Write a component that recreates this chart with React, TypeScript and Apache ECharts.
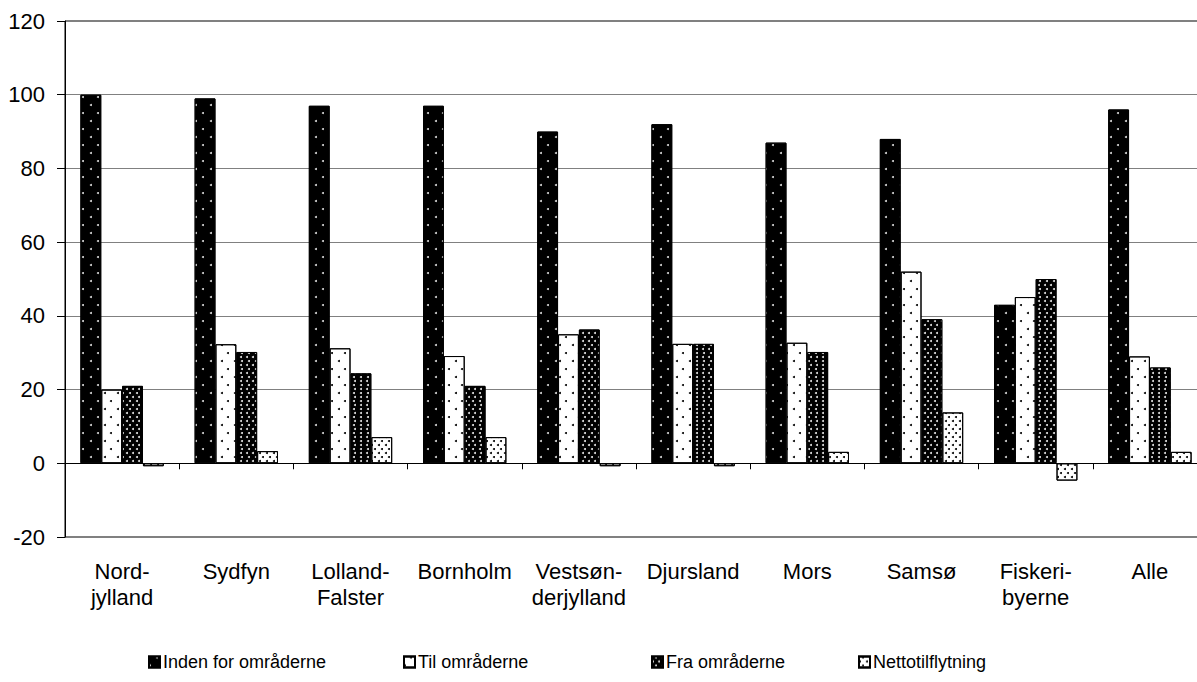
import React, { useEffect, useRef } from "react";
import * as echarts from "echarts";

const categories = [
  "Nord-\njylland",
  "Sydfyn",
  "Lolland-\nFalster",
  "Bornholm",
  "Vestsøn-\nderjylland",
  "Djursland",
  "Mors",
  "Samsø",
  "Fiskeri-\nbyerne",
  "Alle",
];
const seriesNames = ["Inden for områderne", "Til områderne", "Fra områderne", "Nettotilflytning"];
const inden = [100, 99, 97, 97, 90, 92, 87, 88, 43, 96];
const til = [20, 32.3, 31.2, 29.1, 35, 32.4, 32.7, 52, 45.1, 29];
const fra = [21, 30.2, 24.4, 21, 36.3, 32.4, 30.2, 39.1, 50, 26];
const netto = [-0.8, 3.3, 7.1, 7.1, -0.8, -0.8, 3.1, 13.8, -4.7, 3.1];
const yTicks = { min: -20, max: 120, interval: 20 };

const FONT = "Liberation Sans, Arial, sans-serif";

const decals = [
  {
    symbol: "circle",
    symbolSize: 1,
    color: "rgba(255,255,255,0.85)",
    dashArrayX: [[1.4, 12.6], [0, 7, 1.4, 5.6]],
    dashArrayY: [1.4, 5.6],
  },
  {
    symbol: "circle",
    symbolSize: 1,
    color: "#000",
    dashArrayX: [[1.4, 10.6], [0, 6, 1.4, 4.6]],
    dashArrayY: [1.4, 5.4],
  },
  {
    symbol: "circle",
    symbolSize: 1,
    color: "rgba(255,255,255,0.9)",
    dashArrayX: [[1.5, 3.9], [0, 2.7, 1.5, 1.2]],
    dashArrayY: [1.5, 1.2],
  },
  {
    symbol: "circle",
    symbolSize: 1,
    color: "#000",
    dashArrayX: [[1.2, 4.8], [0, 3, 1.2, 1.8]],
    dashArrayY: [1.2, 1.8],
  },
];
const fills = ["#000", "#fff", "#000", "#fff"];
const legendLeft = [143, 398, 646, 853];

export default function App() {
  const ref = useRef<HTMLDivElement>(null);
  useEffect(() => {
    if (!ref.current) return;
    const chart = echarts.init(ref.current, null, { renderer: "svg" });
    const values = [inden, til, fra, netto];
    chart.setOption({
      animation: false,
      backgroundColor: "#fff",
      textStyle: { fontFamily: FONT },
      grid: {
        left: 65,
        top: 21,
        right: 8,
        bottom: 145,
        show: true,
        borderColor: "#000",
        borderWidth: 1,
        backgroundColor: "transparent",
      },
      legend: seriesNames.map((n, i) => ({
        data: [n],
        left: legendLeft[i],
        top: 648,
        itemWidth: 11,
        itemHeight: 11,
        itemGap: 4,
        icon: "rect",
        selectedMode: false,
        textStyle: { fontSize: 18, color: "#000", fontFamily: FONT, padding: [0, 0, 0, -2] },
      })),
      xAxis: [
        {
          type: "category",
          data: categories,
          axisLine: { onZero: true, lineStyle: { color: "#000", width: 1 } },
          axisTick: { show: true, length: 6, lineStyle: { color: "#000" } },
          axisLabel: { show: false },
          splitLine: { show: false },
        },
        {
          type: "category",
          data: categories,
          position: "bottom",
          axisLine: { show: false, onZero: false },
          axisTick: { show: false },
          axisLabel: {
            interval: 0,
            fontSize: 22,
            lineHeight: 26,
            margin: 21,
            color: "#000",
            fontFamily: FONT,
          },
          splitLine: { show: false },
        },
      ],
      yAxis: {
        type: "value",
        min: yTicks.min,
        max: yTicks.max,
        interval: yTicks.interval,
        axisLine: { show: true, lineStyle: { color: "#000" } },
        axisTick: { show: true, length: 8, lineStyle: { color: "#000" } },
        axisLabel: { fontSize: 22, color: "#000", margin: 20, fontFamily: FONT },
        splitLine: { show: true, lineStyle: { color: "#808080", width: 1 } },
      },
      series: seriesNames.map((n, i) => ({
        name: n,
        type: "bar",
        xAxisIndex: 0,
        data: values[i],
        barGap: "0%",
        barCategoryGap: "27%",
        itemStyle: {
          color: fills[i],
          borderColor: "#000",
          borderWidth: 1,
          decal: decals[i],
        },
        emphasis: { disabled: true },
      })),
    });
    return () => chart.dispose();
  }, []);
  return (
    <div
      style={{
        position: "fixed",
        left: 0,
        top: 0,
        width: 1197,
        height: 682,
        overflow: "hidden",
        background: "#fff",
      }}
    >
      <div ref={ref} style={{ width: 1215, height: 682 }} />
    </div>
  );
}
